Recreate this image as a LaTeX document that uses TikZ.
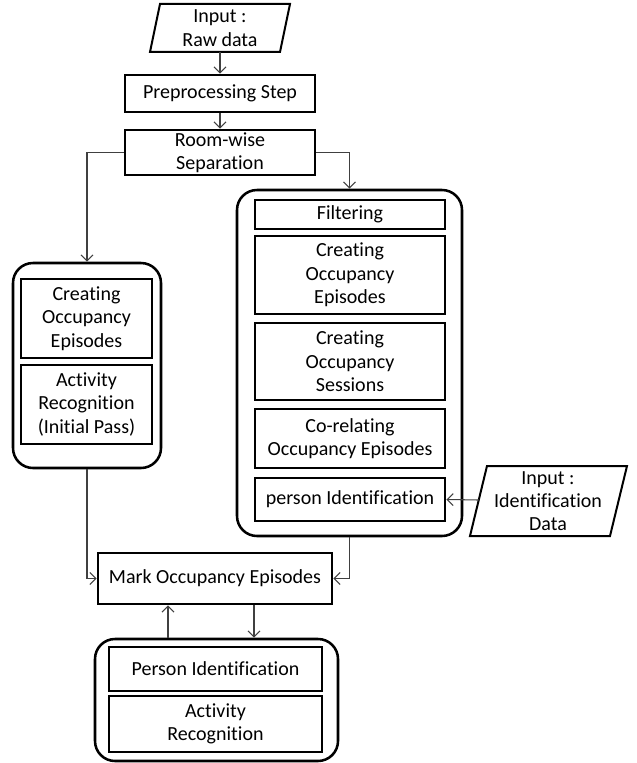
\documentclass[tikz,border=0pt]{standalone}
\usepackage{fontspec}
\setmainfont[Ligatures={NoCommon}]{Carlito}
\usetikzlibrary{arrows.meta}
\tikzset{
  box/.style={draw, line width=2.2pt, align=center, inner sep=0pt},
  cont/.style={draw, line width=1.9pt, rounded corners=15pt, inner sep=0pt},
  para/.style={draw, line width=1.5pt, line join=miter},
  conn/.style={draw=black!75, line width=0.8pt, -{Straight Barb[length=4.5pt,width=9pt]}},
  lbl/.style={align=center, inner sep=0pt}
}
\newcommand\bx[7]{\node[#1, minimum width={(#5-#3)*0.75pt}, minimum height={(#6-#4)*0.75pt}] (#2) at ({(#3+#5)/2},{(#4+#6)/2}) {#7};}
\begin{document}
\begin{tikzpicture}[x=0.75pt, y=-0.75pt, font=\fontsize{15}{17.5}\selectfont]
\useasboundingbox (0,0) rectangle (636,763);
% Input raw data
\draw[para] (160,4) -- (290,4) -- (280,52) -- (150,52) -- cycle;
\node[lbl] (inraw) at (220,28) {Input :\\Raw data};
\coordinate (inrawb) at (220,52);
% main boxes
\bx{box}{pre}{125}{75}{315}{112}{Preprocessing Step}
\bx{box}{room}{125}{130}{315}{175}{Room-wise\\Separation}
% left container
\bx{cont}{lc}{13}{263}{161}{468}{}
\bx{box}{l1}{21}{279}{152}{358}{Creating\\Occupancy\\Episodes}
\bx{box}{l2}{21}{365}{152}{444}{Activity\\Recognition\\(Initial Pass)}
% right container
\bx{cont}{rc}{237}{190}{462}{536}{}
\bx{box}{r1}{255}{200}{445}{229}{Filtering}
\bx{box}{r2}{255}{236}{445}{314}{Creating\\Occupancy\\Episodes}
\bx{box}{r3}{255}{323}{445}{400}{Creating\\Occupancy\\Sessions}
\bx{box}{r4}{255}{409}{445}{468}{Co-relating\\Occupancy Episodes}
\bx{box}{r5}{255}{478}{445}{521}{person Identification}
% identification input
\draw[para] (487,466) -- (627,466) -- (610,536) -- (470,536) -- cycle;
\node[lbl] (inid) at (548,501) {Input :\\Identification\\Data};
\coordinate (inidl) at (479,500);
% mark
\bx{box}{mark}{98}{553}{332}{604}{Mark Occupancy Episodes}
% bottom container
\bx{cont}{bc}{95}{639}{338}{761}{}
\bx{box}{b1}{109}{647}{322}{691}{Person Identification}
\bx{box}{b2}{109}{696}{322}{752}{Activity\\Recognition}
% connectors
\coordinate (ux) at (168,0);
\coordinate (dx) at (254,0);
\draw[conn] (inrawb) -- (pre.north);
\draw[conn] (pre.south) -- (room.north);
\draw[conn] (room.west) -| (lc.north);
\draw[conn] (room.east) -| (rc.north);
\draw[conn] (lc.south) |- (mark.west);
\draw[conn] (rc.south) |- (mark.east);
\draw[conn] (inidl) -- (r5.east);
\draw[conn] (bc.north -| ux) -- (mark.south -| ux);
\draw[conn] (mark.south -| dx) -- (bc.north -| dx);
\end{tikzpicture}
\end{document}
